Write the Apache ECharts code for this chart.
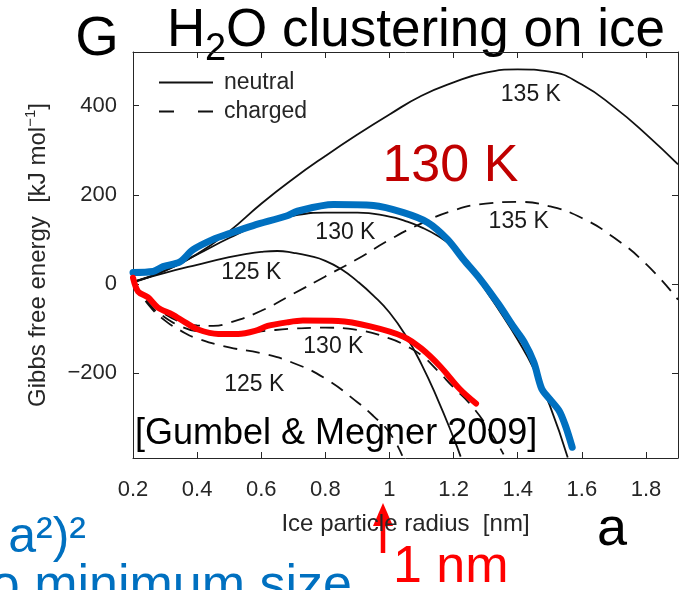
<!DOCTYPE html>
<html>
<head>
<meta charset="utf-8">
<script src="https://cdn.jsdelivr.net/npm/echarts@6/dist/echarts.min.js"></script>
<style>
  html, body { margin: 0; padding: 0; background: #fff; }
  #chart { width: 683px; height: 590px; }
</style>
</head>
<body>
<div id="chart"></div>
<script>
// 刻度
const xTicks = [0.2, 0.4, 0.6, 0.8, 1, 1.2, 1.4, 1.6, 1.8]
const yTicks = [-200, 0, 200, 400]

// neutral (solid) curves, [radius nm, G kJ/mol]
const neutral125 = [[0.2, 5], [0.3, 25], [0.4, 43], [0.5, 60], [0.55, 67], [0.6, 72], [0.65, 74], [0.7, 70], [0.75, 63], [0.8, 52], [0.85, 33], [0.9, 6], [0.95, -26], [1.0, -64], [1.05, -115], [1.1, -180], [1.15, -258], [1.2, -345], [1.222, -387]]
const neutral130 = [[0.2, 5], [0.3, 30], [0.4, 66], [0.5, 103], [0.6, 135], [0.7, 153], [0.8, 160], [0.9, 160], [1.0, 151], [1.05, 141], [1.1, 127], [1.15, 108], [1.2, 82], [1.25, 40], [1.3, -14], [1.35, -68], [1.4, -125], [1.45, -190], [1.5, -272], [1.556, -389]]
const neutral135 = [[0.2, 3], [0.3, 30], [0.4, 67], [0.5, 118], [0.6, 180], [0.7, 236], [0.8, 287], [0.9, 335], [1.0, 380], [1.1, 422], [1.2, 452], [1.3, 474], [1.4, 481], [1.5, 476], [1.6, 447], [1.7, 397], [1.8, 336], [1.9, 268]]

// charged (dashed) curves
const charged125 = [[0.2, 5], [0.25, -48], [0.3, -82], [0.35, -105], [0.4, -122], [0.5, -142], [0.6, -155], [0.7, -177], [0.8, -212], [0.9, -265], [0.95, -296], [1.0, -333], [1.04, -385]]
const charged130 = [[0.2, 5], [0.25, -45], [0.3, -75], [0.35, -95], [0.4, -106], [0.5, -111], [0.6, -106], [0.7, -100], [0.8, -98], [0.9, -103], [1.0, -122], [1.05, -138], [1.1, -160], [1.15, -194], [1.2, -232], [1.25, -268], [1.3, -315], [1.356, -382]]
const charged135 = [[0.2, 5], [0.25, -40], [0.3, -68], [0.35, -85], [0.4, -93], [0.45, -94], [0.5, -87], [0.6, -60], [0.7, -22], [0.8, 17], [0.9, 56], [1.0, 99], [1.1, 136], [1.2, 165], [1.3, 180], [1.4, 184], [1.5, 174], [1.6, 148], [1.7, 104], [1.8, 45], [1.9, -35]]

// hand-drawn overlay curves
const blueTrace = [[0.2, 26], [0.2625, 28], [0.294, 39], [0.347, 50], [0.3875, 77], [0.45, 100], [0.5, 113], [0.575, 131], [0.681, 153], [0.7125, 163], [0.825, 178], [0.95, 176], [1.044, 160], [1.119, 138], [1.181, 100], [1.231, 55], [1.284, 10], [1.34, -45], [1.388, -97], [1.42, -130], [1.45, -175], [1.475, -235], [1.5, -258], [1.53, -285], [1.55, -320], [1.57, -366]]
const redTrace = [[0.2, 14], [0.216, -17], [0.247, -30], [0.278, -53], [0.322, -68], [0.363, -86], [0.403, -102], [0.466, -112], [0.528, -112], [0.581, -105], [0.62, -94], [0.68, -86], [0.73, -82], [0.84, -83], [0.94, -95], [1.044, -118], [1.1, -145], [1.16, -186], [1.22, -236], [1.27, -268]]

// curve labels [x, y, text]
const curveLabels = [[1.441, 425, '135 K'], [1.403, 140, '135 K'], [0.8625, 115, '130 K'], [0.569, 26, '125 K'], [0.825, -140, '130 K'], [0.578, -225, '125 K']]
const bigLabel = [[1.19, 263, '130 K']]

const FONT = '"Liberation Sans", Arial, Helvetica, sans-serif'
const INK = '#262626'

let solid = (name, data) => ({
  type: 'line', name: name, data: data, symbol: 'none', smooth: 0.5,
  lineStyle: { color: '#111', width: 1.8, type: 'solid' }, itemStyle: { color: '#111' }, z: 2
})
let dashed = (name, data) => ({
  type: 'line', name: name, data: data, symbol: 'none', smooth: 0.5,
  lineStyle: { color: '#111', width: 1.8, type: [14, 9] }, itemStyle: { color: '#111' }, z: 2
})

let axisCommon = {
  type: 'value',
  axisLine: { show: true, onZero: false, lineStyle: { color: INK, width: 1 } },
  splitLine: { show: false }
}

let chart = echarts.init(document.getElementById('chart'))
chart.setOption({
  animation: false,
  backgroundColor: '#fff',
  grid: { left: 133, right: 5, top: 52, bottom: 132, outerBoundsMode: 'none', containLabel: false },
  legend: {
    orient: 'vertical', left: 158, top: 68, padding: 0, itemGap: 0,
    itemWidth: 54, itemHeight: 14, selectedMode: false,
    itemStyle: { opacity: 0, borderWidth: 0 },
    textStyle: { fontSize: 23, fontFamily: FONT, color: INK, lineHeight: 29, padding: [0, 0, 0, 6] },
    data: [{ name: 'neutral' }, { name: 'charged', lineStyle: { type: [15, 24] } }]
  },
  xAxis: [
    Object.assign({}, axisCommon, {
      min: 0.2, max: 1.9, position: 'bottom',
      axisTick: { inside: true, length: 6, customValues: xTicks, lineStyle: { color: INK } },
      axisLabel: { customValues: xTicks, margin: 21, fontSize: 22, fontFamily: FONT, color: INK },
      name: 'Ice particle radius  [nm]', nameLocation: 'middle', nameGap: 54,
      nameTextStyle: { fontSize: 24, fontFamily: FONT, color: INK }
    }),
    Object.assign({}, axisCommon, {
      min: 0.2, max: 1.9, position: 'top',
      axisTick: { inside: true, length: 6, customValues: xTicks, lineStyle: { color: INK } },
      axisLabel: { show: false }
    })
  ],
  yAxis: [
    Object.assign({}, axisCommon, {
      min: -390, max: 520, position: 'left',
      axisTick: { inside: true, length: 6, customValues: yTicks, lineStyle: { color: INK } },
      axisLabel: {
        customValues: yTicks, margin: 16, fontSize: 22, fontFamily: FONT, color: INK,
        formatter: v => (v < 0 ? '\u2212' + Math.abs(v) : String(v))
      },
      name: 'Gibbs free energy  [kJ mol{sup|\u22121}]', nameLocation: 'middle', nameGap: 80,
      nameTextStyle: {
        fontSize: 24, fontFamily: FONT, color: INK, lineHeight: 30,
        rich: { sup: { fontSize: 15, fontFamily: FONT, color: INK, verticalAlign: 'top', lineHeight: 16 } }
      }
    }),
    Object.assign({}, axisCommon, {
      min: -390, max: 520, position: 'right',
      axisTick: { inside: true, length: 6, customValues: yTicks, lineStyle: { color: INK } },
      axisLabel: { show: false }
    })
  ],
  series: [
    solid('neutral', neutral125),
    solid('neutral', neutral130),
    solid('neutral', neutral135),
    dashed('charged', charged125),
    dashed('charged', charged130),
    dashed('charged', charged135),
    {
      type: 'line', name: 'blue', data: blueTrace, symbol: 'none', smooth: 0.3, z: 4,
      lineStyle: { color: '#0070c0', width: 7, cap: 'round', join: 'round' }
    },
    {
      type: 'line', name: 'red', data: redTrace, symbol: 'none', smooth: 0.3, z: 5,
      lineStyle: { color: '#ff0000', width: 6, cap: 'round', join: 'round' }
    },
    {
      type: 'scatter', data: curveLabels, symbolSize: 0, z: 6, silent: true, itemStyle: { opacity: 1 },
      label: { show: true, position: 'inside', opacity: 1, formatter: p => p.value[2], fontSize: 23, fontFamily: FONT, color: '#1a1a1a' }
    },
    {
      type: 'scatter', data: bigLabel, symbolSize: 0, z: 6, silent: true, itemStyle: { opacity: 1 },
      label: { show: true, position: 'inside', opacity: 1, formatter: p => p.value[2], fontSize: 52, fontFamily: FONT, color: '#c00000' }
    }
  ],
  graphic: [
    { type: 'text', x: 97, y: 40, style: { text: 'G', font: '56px ' + FONT, fill: '#000', align: 'center', verticalAlign: 'middle' } },
    { type: 'text', x: 167, y: 31, style: { text: 'H', font: '53px ' + FONT, fill: '#000', align: 'left', verticalAlign: 'middle' } },
    { type: 'text', x: 205, y: 50, style: { text: '2', font: '38px ' + FONT, fill: '#000', align: 'left', verticalAlign: 'middle' } },
    { type: 'text', x: 226, y: 31, style: { text: 'O clustering on ice', font: '53px ' + FONT, fill: '#000', align: 'left', verticalAlign: 'middle' } },
    { type: 'text', x: 135, y: 434, z: 10, style: { text: '[Gumbel & Megner 2009]', font: '36px ' + FONT, fill: '#000', align: 'left', verticalAlign: 'middle' } },
    { type: 'text', x: 612, y: 530, style: { text: 'a', font: '54px ' + FONT, fill: '#000', align: 'center', verticalAlign: 'middle' } },
    { type: 'text', x: 393, y: 568, style: { text: '1 nm', font: '52px ' + FONT, fill: '#ff0000', align: 'left', verticalAlign: 'middle' } },
    { type: 'text', x: 86, y: 538, style: { text: 'a\u00b2)\u00b2', font: '50px ' + FONT, fill: '#0070c0', align: 'right', verticalAlign: 'middle' } },
    { type: 'text', x: 352, y: 587, style: { text: 'to minimum size', font: '52px ' + FONT, fill: '#0070c0', align: 'right', verticalAlign: 'middle' } },
    { type: 'line', shape: { x1: 383, y1: 553, x2: 383, y2: 520 }, style: { stroke: '#ff0000', lineWidth: 4.5 } },
    { type: 'polygon', shape: { points: [[373, 526], [383, 503], [393, 526]] }, style: { fill: '#ff0000' } }
  ]
})
</script>
</body>
</html>
